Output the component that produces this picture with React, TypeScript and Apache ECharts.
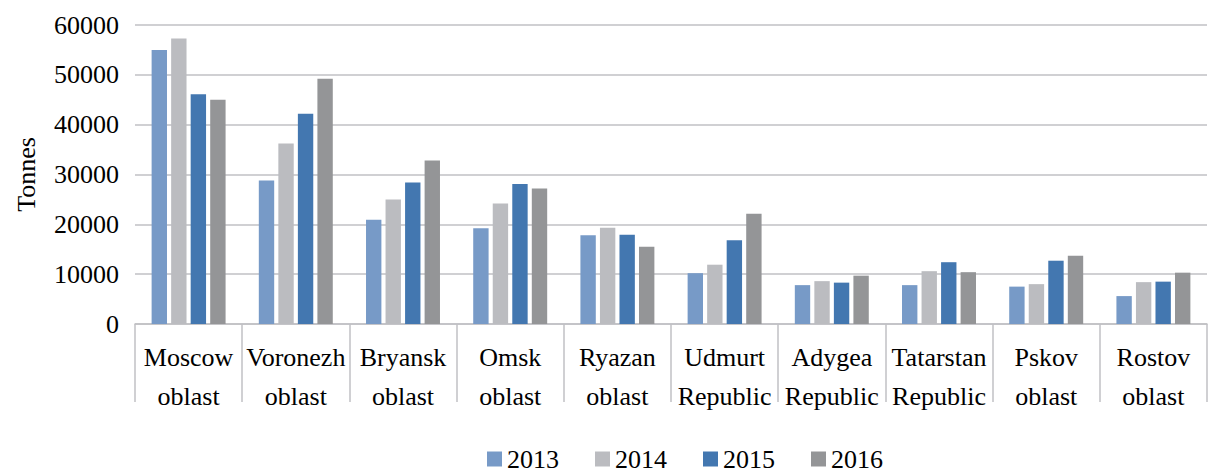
import React, { useEffect, useRef } from "react";
import * as echarts from "echarts";

const categories = [
  "Moscow\noblast",
  "Voronezh\noblast",
  "Bryansk\noblast",
  "Omsk\noblast",
  "Ryazan\noblast",
  "Udmurt\nRepublic",
  "Adygea\nRepublic",
  "Tatarstan\nRepublic",
  "Pskov\noblast",
  "Rostov\noblast",
];
const years = ["2013", "2014", "2015", "2016"];
const values2013 = [55000, 28800, 20900, 19200, 17800, 10200, 7800, 7800, 7500, 5600];
const values2014 = [57300, 36200, 25000, 24200, 19300, 11900, 8600, 10600, 8000, 8400];
const values2015 = [46100, 42200, 28400, 28100, 17900, 16800, 8300, 12400, 12700, 8500];
const values2016 = [45000, 49200, 32800, 27200, 15500, 22100, 9700, 10400, 13700, 10300];
const yTicks = { min: 0, max: 60000, interval: 10000 };
const colors = ["#779ac7", "#bbbcc0", "#4377b0", "#949597"];

const FONT = "Liberation Serif, serif";

export default function App() {
  const ref = useRef<HTMLDivElement>(null);
  useEffect(() => {
    if (!ref.current) return;
    const chart = echarts.init(ref.current, undefined, { renderer: "svg" });
    const seriesData = [values2013, values2014, values2015, values2016];
    chart.setOption({
      animation: false,
      color: colors,
      textStyle: { fontFamily: FONT, color: "#000" },
      grid: { left: 135, right: 1, top: 25, bottom: 148, containLabel: false },
      legend: {
        data: years,
        left: 487,
        top: 446,
        padding: 0,
        itemWidth: 15,
        itemHeight: 15,
        itemGap: 36,
        icon: "rect",
        textStyle: { fontFamily: FONT, fontSize: 26, color: "#000", lineHeight: 26 },
      },
      xAxis: {
        type: "category",
        data: categories,
        axisLine: { lineStyle: { color: "#c0c0c4", width: 1.5 } },
        axisTick: { show: true, length: 78, lineStyle: { color: "#c0c0c4", width: 1.5 } },
        axisLabel: {
          interval: 0,
          fontFamily: FONT,
          fontSize: 26,
          color: "#000",
          lineHeight: 39,
          margin: 14,
        },
      },
      yAxis: {
        type: "value",
        min: yTicks.min,
        max: yTicks.max,
        interval: yTicks.interval,
        name: "Tonnes",
        nameLocation: "middle",
        nameGap: 96,
        nameRotate: 90,
        nameTextStyle: { fontFamily: FONT, fontSize: 26, color: "#000" },
        axisLine: { show: false },
        axisTick: { show: false },
        splitLine: { lineStyle: { color: "#c0c0c4", width: 1.5 } },
        axisLabel: {
          fontFamily: FONT,
          fontSize: 26,
          color: "#000",
          margin: 16,
          formatter: (v: number) => String(v),
        },
      },
      series: years.map((y, i) => ({
        name: y,
        type: "bar",
        data: seriesData[i],
        barGap: "27%",
        barCategoryGap: "31%",
      })),
    });
    return () => chart.dispose();
  }, []);
  return (
    <div
      ref={ref}
      style={{ position: "fixed", left: 0, top: 0, width: 1208, height: 472, background: "#fff" }}
    />
  );
}
